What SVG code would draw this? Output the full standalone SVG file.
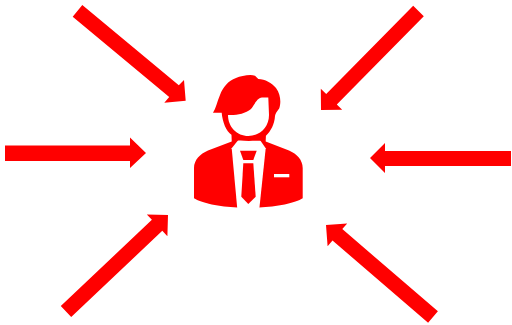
<svg xmlns="http://www.w3.org/2000/svg" width="512" height="325" viewBox="0 0 512 325">
<style>.r{fill:#ff0000}.w{fill:#ffffff}</style>
<rect width="512" height="325" fill="#ffffff"/>
<g id="person">
<path class="r" d="M194 168C194 160 200 154 208 150.500L231.700 141.500L231.700 135L265.700 135L265.700 141.500L289 150.500C297 154 302.700 160 302.700 168L302.700 198.300C296 203 276 207 259.300 207.500L237.300 207.500C220 207 201 203 194 198.300Z"/>
<path class="w" d="M231.700 148.300L237.300 209L259.300 209L265.700 148.300L260 140L238.300 140Z"/>
<path class="r" d="M240 150.700L256.700 150.700L253.300 160L243.300 160Z"/>
<path class="r" d="M243.300 163.300L253.300 163.300L255.700 196.700L248.300 204L241.300 196.700Z"/>
<rect class="w" x="274" y="174" width="15.300" height="3.300"/>
<path class="r" d="M213 112.700C216 108 217 102 220 95C223 87 228 81 236 78C241 76 250 74 255 75.700L258.300 79C265 79 272 83 276 88C281 95 281 103 279.300 108.300C277 112 275.500 113 275 116C274.500 124 271 131 265.700 136L265 140.500C258 141 240 141 232 140.500L231.700 135C226 131 222.500 122 221.700 112.700Z"/>
<path class="w" d="M228 115C236 115.500 245 114 251 109C255 104 257 98 262 97.500L268.300 97.500L269 115C269 127 260 136 248.300 136C237 136 228 127 228 115Z"/>
</g>
<g id="connectors">
<polygon class="r" points="72.700,16.700 82.300,5 178.800,85.200 184,80 185.700,100.700 164.300,102.700 169.200,96.900"/>
<polygon class="r" points="5,145.500 130,145.500 130,137.500 146,153 130,168 130,161 5,161"/>
<polygon class="r" points="413.200,5.800 423.800,16.200 336.800,104.500 342.200,109.800 321,110 320.800,88.800 326.200,94"/>
<polygon class="r" points="511,151 385,151 385,143 370,158 385,173 385,166 511,166"/>
<polygon class="r" points="71.200,317 60.800,306 151.900,219.800 146.800,214.400 168,215 167.400,236.200 162.300,230.800"/>
<polygon class="r" points="437.900,311.300 428.100,322.700 332.500,240.500 327.600,246.200 326,225 347.200,223.400 342.300,229.100"/>
</g>
</svg>
